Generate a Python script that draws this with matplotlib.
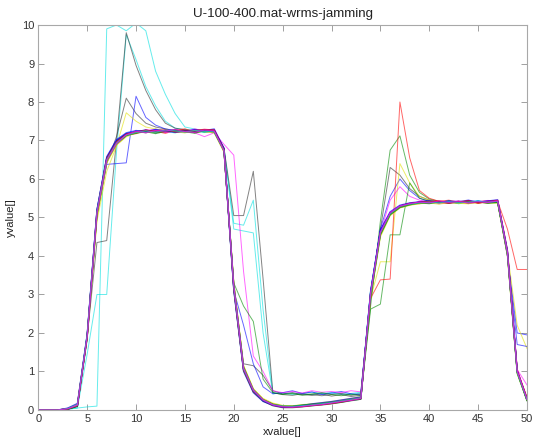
import matplotlib.pyplot as plt

# sample index (one value per step)
xvalue = list(range(51))

# normal runs: they all follow the same shape with small wobble
run01 = [0, 0, 0, 0.02, 0.1, 1.9, 5.2, 6.55, 7.0, 7.18,
         7.22, 7.28, 7.2, 7.27, 7.22, 7.26, 7.23, 7.28, 7.26, 6.75,
         3.1, 1.0, 0.45, 0.22, 0.12, 0.07, 0.08, 0.1, 0.13, 0.15,
         0.19, 0.23, 0.27, 0.3, 3.05, 4.65, 5.12, 5.3, 5.36, 5.4,
         5.38, 5.42, 5.37, 5.41, 5.39, 5.42, 5.38, 5.43, 4.1, 1.0,
         0.28]
run02 = [0, 0, 0, 0.03, 0.13, 1.95, 5.05, 6.45, 6.9, 7.12,
         7.25, 7.2, 7.27, 7.22, 7.28, 7.21, 7.27, 7.22, 7.24, 6.72,
         3.25, 1.1, 0.5, 0.26, 0.14, 0.09, 0.07, 0.09, 0.11, 0.14,
         0.17, 0.2, 0.25, 0.28, 2.95, 4.55, 5.08, 5.26, 5.33, 5.37,
         5.42, 5.38, 5.43, 5.37, 5.42, 5.38, 5.41, 5.4, 4.05, 0.95,
         0.25]
run03 = [0, 0, 0, 0.04, 0.15, 1.9, 5.15, 6.5, 6.95, 7.15,
         7.18, 7.27, 7.24, 7.19, 7.26, 7.3, 7.22, 7.25, 7.28, 6.78,
         3.2, 1.05, 0.52, 0.27, 0.15, 0.1, 0.09, 0.11, 0.14, 0.16,
         0.2, 0.24, 0.28, 0.32, 3.0, 4.6, 5.1, 5.3, 5.37, 5.36,
         5.41, 5.43, 5.4, 5.38, 5.44, 5.37, 5.42, 5.45, 4.15, 1.05,
         0.3]
run04 = [0, 0, 0, 0.02, 0.11, 1.85, 5.1, 6.5, 6.92, 7.16,
         7.24, 7.22, 7.26, 7.24, 7.2, 7.27, 7.25, 7.21, 7.25, 6.76,
         3.15, 1.02, 0.48, 0.24, 0.13, 0.08, 0.07, 0.1, 0.12, 0.15,
         0.18, 0.21, 0.25, 0.29, 3.1, 4.62, 5.12, 5.28, 5.35, 5.4,
         5.37, 5.4, 5.42, 5.36, 5.4, 5.43, 5.39, 5.41, 4.1, 1.0,
         0.27]
run05 = [0, 0, 0, 0.03, 0.12, 1.92, 5.12, 6.52, 6.97, 7.14,
         7.21, 7.26, 7.28, 7.21, 7.25, 7.22, 7.3, 7.24, 7.22, 6.74,
         3.22, 1.08, 0.5, 0.25, 0.13, 0.09, 0.08, 0.1, 0.12, 0.16,
         0.19, 0.22, 0.26, 0.31, 2.98, 4.58, 5.1, 5.27, 5.35, 5.39,
         5.41, 5.36, 5.4, 5.43, 5.37, 5.4, 5.44, 5.42, 4.08, 1.02,
         0.3]
run06 = [0, 0, 0, 0.03, 0.14, 1.88, 5.0, 6.42, 6.88, 7.1,
         7.2, 7.24, 7.21, 7.26, 7.23, 7.2, 7.26, 7.23, 7.2, 6.7,
         3.3, 1.15, 0.55, 0.28, 0.16, 0.11, 0.1, 0.12, 0.15, 0.18,
         0.21, 0.25, 0.29, 0.33, 2.9, 4.5, 5.05, 5.25, 5.32, 5.36,
         5.38, 5.35, 5.39, 5.37, 5.36, 5.4, 5.37, 5.38, 4.0, 0.95,
         0.26]
run07 = [0, 0, 0, 0.02, 0.1, 1.93, 5.18, 6.55, 6.98, 7.17,
         7.23, 7.25, 7.23, 7.25, 7.24, 7.26, 7.23, 7.25, 7.24, 6.77,
         3.12, 1.03, 0.47, 0.23, 0.11, 0.06, 0.06, 0.08, 0.11, 0.13,
         0.16, 0.2, 0.24, 0.28, 3.05, 4.63, 5.12, 5.29, 5.36, 5.39,
         5.4, 5.39, 5.4, 5.4, 5.41, 5.39, 5.4, 5.41, 4.12, 1.0,
         0.28]
run08 = [0, 0, 0, 0.05, 0.17, 1.97, 5.2, 6.58, 7.02, 7.2,
         7.26, 7.23, 7.29, 7.25, 7.21, 7.24, 7.28, 7.26, 7.3, 6.8,
         3.18, 1.06, 0.49, 0.24, 0.13, 0.08, 0.09, 0.12, 0.16, 0.19,
         0.22, 0.26, 0.3, 0.34, 3.08, 4.68, 5.15, 5.32, 5.38, 5.41,
         5.44, 5.39, 5.43, 5.41, 5.45, 5.4, 5.43, 5.46, 4.15, 1.02,
         0.3]
run09 = [0, 0, 0, 0.02, 0.09, 1.87, 5.08, 6.48, 6.93, 7.13,
         7.19, 7.23, 7.18, 7.24, 7.27, 7.23, 7.19, 7.26, 7.22, 6.73,
         3.28, 1.12, 0.53, 0.27, 0.15, 0.1, 0.1, 0.13, 0.15, 0.17,
         0.2, 0.23, 0.27, 0.3, 2.92, 4.55, 5.07, 5.26, 5.33, 5.38,
         5.36, 5.41, 5.38, 5.42, 5.38, 5.41, 5.37, 5.39, 4.05, 0.98,
         0.24]
run10 = [0, 0, 0, 0.03, 0.12, 1.91, 5.14, 6.53, 6.96, 7.16,
         7.22, 7.26, 7.25, 7.28, 7.22, 7.24, 7.26, 7.29, 7.27, 6.76,
         3.16, 1.04, 0.49, 0.26, 0.14, 0.09, 0.08, 0.09, 0.12, 0.14,
         0.17, 0.21, 0.26, 0.3, 3.02, 4.6, 5.11, 5.29, 5.36, 5.4,
         5.42, 5.4, 5.37, 5.41, 5.43, 5.38, 5.41, 5.44, 4.1, 1.0,
         0.33]
run11 = [0, 0, 0, 0.04, 0.14, 1.96, 5.16, 6.5, 6.94, 7.14,
         7.21, 7.25, 7.22, 7.27, 7.25, 7.22, 7.26, 7.24, 7.23, 6.74,
         3.2, 1.07, 0.51, 0.26, 0.14, 0.1, 0.09, 0.11, 0.13, 0.16,
         0.19, 0.23, 0.27, 0.31, 3.0, 4.6, 5.1, 5.29, 5.35, 5.38,
         5.4, 5.38, 5.41, 5.39, 5.4, 5.42, 5.4, 5.42, 4.08, 0.98,
         0.28]
run12 = [0, 0, 0, 0.03, 0.12, 1.9, 5.1, 6.48, 6.92, 7.15,
         7.24, 7.2, 7.26, 7.24, 7.29, 7.23, 7.21, 7.27, 7.25, 6.73,
         3.24, 1.09, 0.52, 0.26, 0.13, 0.08, 0.07, 0.09, 0.12, 0.14,
         0.18, 0.22, 0.25, 0.3, 3.03, 4.62, 5.13, 5.3, 5.36, 5.4,
         5.38, 5.43, 5.39, 5.42, 5.38, 5.41, 5.39, 5.43, 4.1, 1.01,
         0.27]

# runs with overshoot or late settling
run13 = [0, 0, 0, 0.02, 0.05, 0.08, 0.1, 9.9, 10.0, 9.85,
         10.05, 9.85, 8.8, 8.2, 7.7, 7.35, 7.3, 7.25, 7.22, 6.8,
         4.7, 4.65, 4.6, 2.0, 0.42, 0.45, 0.4, 0.43, 0.46, 0.42,
         0.44, 0.4, 0.43, 0.46, 3.0, 4.55, 5.08, 5.28, 5.35, 5.38,
         5.4, 5.41, 5.38, 5.4, 5.42, 5.39, 5.41, 5.4, 4.05, 1.0,
         0.3]
run14 = [0, 0, 0, 0.02, 0.05, 1.45, 3.0, 3.0, 6.7, 9.75,
         9.1, 8.4, 7.9, 7.5, 7.32, 7.28, 7.25, 7.27, 7.24, 6.8,
         4.85, 4.8, 5.45, 2.6, 0.45, 0.42, 0.44, 0.41, 0.4, 0.43,
         0.45, 0.42, 0.4, 0.44, 3.1, 4.65, 5.12, 5.3, 5.37, 5.4,
         5.42, 5.39, 5.41, 5.38, 5.4, 5.43, 5.38, 5.41, 4.1, 1.02,
         0.28]
run15 = [0, 0, 0, 0.03, 0.12, 1.9, 4.35, 4.4, 7.0, 9.8,
         8.95, 8.3, 7.8, 7.45, 7.32, 7.28, 7.25, 7.24, 7.25, 6.8,
         5.05, 5.05, 6.2, 3.4, 0.45, 0.4, 0.38, 0.42, 0.4, 0.37,
         0.4, 0.43, 0.38, 0.42, 3.0, 4.7, 6.3, 6.1, 5.75, 5.55,
         5.45, 5.41, 5.4, 5.42, 5.38, 5.4, 5.41, 5.4, 4.1, 0.97,
         0.25]
run16 = [0, 0, 0, 0.02, 0.1, 1.92, 5.05, 6.4, 7.1, 8.1,
         7.7, 7.45, 7.35, 7.3, 7.26, 7.24, 7.27, 7.23, 7.26, 6.75,
         3.2, 1.2, 1.15, 0.9, 0.5, 0.42, 0.45, 0.4, 0.38, 0.42,
         0.36, 0.4, 0.35, 0.38, 3.05, 4.62, 5.1, 5.28, 5.35, 5.4,
         5.38, 5.41, 5.4, 5.37, 5.42, 5.4, 5.39, 5.42, 4.1, 1.0,
         0.27]
run17 = [0, 0, 0, 0.03, 0.13, 1.95, 5.1, 6.38, 6.4, 6.42,
         8.15, 7.6, 7.4, 7.3, 7.26, 7.24, 7.28, 7.22, 7.25, 6.78,
         3.1, 2.2, 1.2, 0.6, 0.42, 0.45, 0.5, 0.43, 0.47, 0.4,
         0.44, 0.48, 0.42, 0.4, 2.95, 4.7, 5.55, 6.0, 5.7, 5.5,
         5.42, 5.4, 5.38, 5.41, 5.39, 5.4, 5.42, 5.4, 4.0, 2.0,
         1.95]
run18 = [0, 0, 0, 0.04, 0.15, 1.85, 4.9, 6.2, 6.85, 7.72,
         7.5, 7.35, 7.3, 7.25, 7.22, 7.26, 7.2, 7.24, 7.22, 6.72,
         3.3, 1.15, 0.55, 0.3, 0.18, 0.12, 0.11, 0.14, 0.16, 0.19,
         0.22, 0.26, 0.3, 0.35, 2.9, 3.85, 3.85, 6.4, 5.9, 5.55,
         5.45, 5.4, 5.37, 5.39, 5.36, 5.38, 5.4, 5.38, 4.1, 2.2,
         1.6]
run19 = [0, 0, 0, 0.03, 0.11, 1.88, 5.08, 6.46, 6.9, 7.12,
         7.2, 7.25, 7.22, 7.26, 7.23, 7.25, 7.2, 7.1, 7.2, 6.9,
         6.62, 3.6, 1.4, 1.0, 0.5, 0.45, 0.48, 0.44, 0.5, 0.46,
         0.48, 0.45, 0.5, 0.47, 2.95, 4.6, 5.45, 5.8, 5.55, 5.45,
         5.4, 5.42, 5.38, 5.41, 5.36, 5.4, 5.37, 5.42, 4.0, 1.05,
         0.65]
run20 = [0, 0, 0, 0.03, 0.12, 1.93, 5.12, 6.52, 6.95, 7.16,
         7.22, 7.26, 7.21, 7.25, 7.27, 7.22, 7.25, 7.23, 7.26, 6.76,
         3.3, 2.7, 2.3, 0.8, 0.45, 0.4, 0.43, 0.38, 0.42, 0.45,
         0.4, 0.37, 0.41, 0.38, 2.7, 4.9, 6.75, 7.12, 6.1, 5.65,
         5.48, 5.42, 5.4, 5.38, 5.41, 5.39, 5.4, 5.41, 4.05, 0.98,
         0.26]
run21 = [0, 0, 0, 0.02, 0.11, 1.9, 5.1, 6.47, 6.93, 7.13,
         7.2, 7.24, 7.27, 7.22, 7.25, 7.24, 7.22, 7.26, 7.24, 6.73,
         3.22, 1.08, 0.5, 0.25, 0.14, 0.09, 0.08, 0.1, 0.13, 0.16,
         0.19, 0.23, 0.27, 0.31, 2.62, 2.75, 4.55, 4.55, 5.9, 5.5,
         5.42, 5.39, 5.41, 5.38, 5.4, 5.42, 5.39, 5.4, 4.08, 1.0,
         0.25]
run22 = [0, 0, 0, 0.03, 0.13, 1.9, 5.15, 6.52, 6.97, 7.17,
         7.23, 7.27, 7.24, 7.26, 7.22, 7.28, 7.25, 7.27, 7.24, 6.77,
         3.18, 1.05, 0.5, 0.25, 0.14, 0.09, 0.08, 0.1, 0.12, 0.15,
         0.18, 0.22, 0.27, 0.33, 2.9, 3.38, 3.4, 8.0, 6.55, 5.7,
         5.5, 5.42, 5.45, 5.4, 5.43, 5.41, 5.44, 5.42, 4.7, 3.65,
         3.65]
run23 = [0, 0, 0, 0.03, 0.12, 1.92, 5.13, 6.5, 6.95, 7.15,
         7.22, 7.24, 7.26, 7.23, 7.27, 7.25, 7.22, 7.24, 7.26, 6.75,
         3.15, 1.04, 0.49, 0.25, 0.13, 0.08, 0.08, 0.1, 0.13, 0.15,
         0.18, 0.22, 0.26, 0.3, 3.05, 4.65, 5.12, 5.3, 5.36, 5.4,
         5.41, 5.38, 5.42, 5.4, 5.39, 5.43, 5.4, 5.41, 4.0, 1.7,
         1.65]

# matlab style colour codes
mcolor = {'b': '#0000ff', 'g': '#008a00', 'r': '#ff0000', 'c': '#00e0e0',
          'm': '#ff00ff', 'y': '#e0e000', 'k': '#303030'}

odd_runs = [(run13, 'c'), (run14, 'c'), (run15, 'k'), (run16, 'k'),
            (run17, 'b'), (run18, 'y'), (run19, 'm'), (run20, 'g'),
            (run21, 'g'), (run22, 'r'), (run23, 'b')]
normal_runs = [(run01, 'b'), (run02, 'g'), (run03, 'r'), (run04, 'c'),
               (run05, 'm'), (run06, 'y'), (run07, 'k'), (run08, 'b'),
               (run09, 'g'), (run10, 'r'), (run11, 'c'), (run12, 'm')]

plt.rcParams['font.family'] = ['Liberation Sans', 'DejaVu Sans']
plt.rcParams['font.size'] = 8

fig = plt.figure(figsize=(5.35, 4.45), dpi=100)
ax = fig.add_axes([0.0716, 0.0787, 0.9134, 0.8651])

for yv, c in odd_runs:
    ax.plot(xvalue, yv, color=mcolor[c], linewidth=0.7, alpha=0.6)
for yv, c in normal_runs:
    ax.plot(xvalue, yv, color=mcolor[c], linewidth=0.9, alpha=0.65)

ax.set_xlim(0, 50)
ax.set_ylim(0, 10)
ax.set_xticks(range(0, 51, 5))
ax.set_yticks(range(0, 11))
ax.tick_params(direction='in', top=True, right=True, length=4, width=0.6,
               color='#909090', labelcolor='#333333', pad=3)
for s in ax.spines.values():
    s.set_color('#a8a8a8')
    s.set_linewidth(0.8)

ax.set_title('U-100-400.mat-wrms-jamming', color='#222222', pad=6)
ax.set_xlabel('xvalue[]', color='#222222', labelpad=2)
ax.set_ylabel('yvalue[]', color='#222222', labelpad=4)

fig.savefig('out.png', dpi=100)
